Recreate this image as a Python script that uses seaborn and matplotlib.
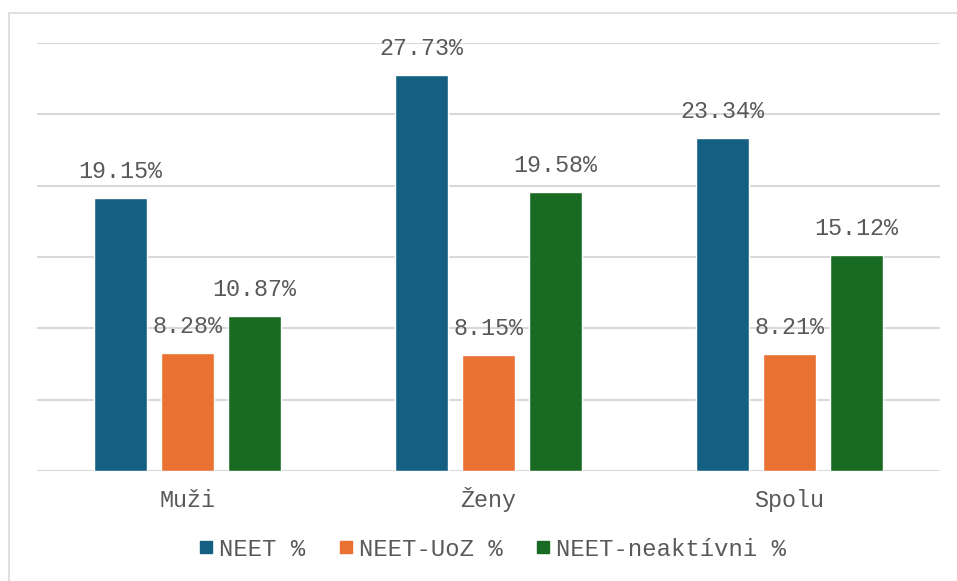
import numpy as np
import pandas as pd
import matplotlib.pyplot as plt
import seaborn as sns
from matplotlib.patches import Rectangle

# Dữ liệu
categories = ["Muži", "Ženy", "Spolu"]
series_names = ["NEET %", "NEET-UoZ %", "NEET-neaktívni %"]
neet = [19.15, 27.73, 23.34]
neet_uoz = [8.28, 8.15, 8.21]
neet_neakt = [10.87, 19.58, 15.12]
colors = ["#156082", "#E97132", "#196B24"]

rows = []
for name, vals in zip(series_names, [neet, neet_uoz, neet_neakt]):
    for cat, v in zip(categories, vals):
        rows.append({"Kategória": cat, "Séria": name, "Hodnota": v})
df = pd.DataFrame(rows)

sns.set_theme(style="white")
plt.rcParams["font.family"] = ["Liberation Mono", "DejaVu Sans Mono"]
text_color = "#595959"
grid_color = "#D9D9D9"
fs = 16.8

fig = plt.figure(figsize=(9.57, 5.81), dpi=100)
ax = fig.add_axes([37 / 957, 110 / 581, 903 / 957, 428 / 581])

sns.barplot(
    data=df, x="Kategória", y="Hodnota", hue="Séria",
    palette=colors, width=0.668, gap=0.21, ax=ax,
    saturation=1, legend=False, zorder=2,
)

ax.set_ylim(0, 30)
ax.set_xlim(-0.5, 2.5)
ax.set_yticks(np.arange(0, 31, 5))
ax.yaxis.grid(True, color=grid_color, linewidth=1.5, zorder=0)
ax.set_axisbelow(True)
ax.set_yticklabels([])
ax.tick_params(axis="y", length=0)
ax.tick_params(axis="x", length=0, pad=26, labelsize=fs, labelcolor=text_color)
for lbl in ax.get_xticklabels():
    lbl.set_verticalalignment("baseline")
ax.set_xlabel("")
ax.set_ylabel("")
for s in ax.spines.values():
    s.set_visible(False)

# Popisky hodnôt nad stĺpcami
for container in ax.containers:
    for bar in container:
        h = bar.get_height()
        ax.annotate(f"{h:.2f}%", (bar.get_x() + bar.get_width() / 2, h),
                    xytext=(0, 19), textcoords="offset points",
                    ha="center", va="center", fontsize=fs, color=text_color,
                    zorder=5)

# Legenda
handles = [plt.Line2D([0], [0], marker="s", linestyle="", markersize=9,
                      markerfacecolor=c, markeredgecolor=c) for c in colors]
fig.legend(handles, series_names, loc="center",
           bbox_to_anchor=(0.5 + 14 / 957, 1 - 549 / 581),
           ncol=3, frameon=False, fontsize=17.2, labelcolor=text_color,
           handlelength=0.6, handletextpad=0.25, columnspacing=1.4)

# Rámček grafu
fig.patches.append(Rectangle((9 / 957, -0.1), 1.0, 1.1 - 13 / 581,
                             transform=fig.transFigure, fill=False,
                             edgecolor=grid_color, linewidth=1.2))

fig.savefig("out.png", dpi=100)
